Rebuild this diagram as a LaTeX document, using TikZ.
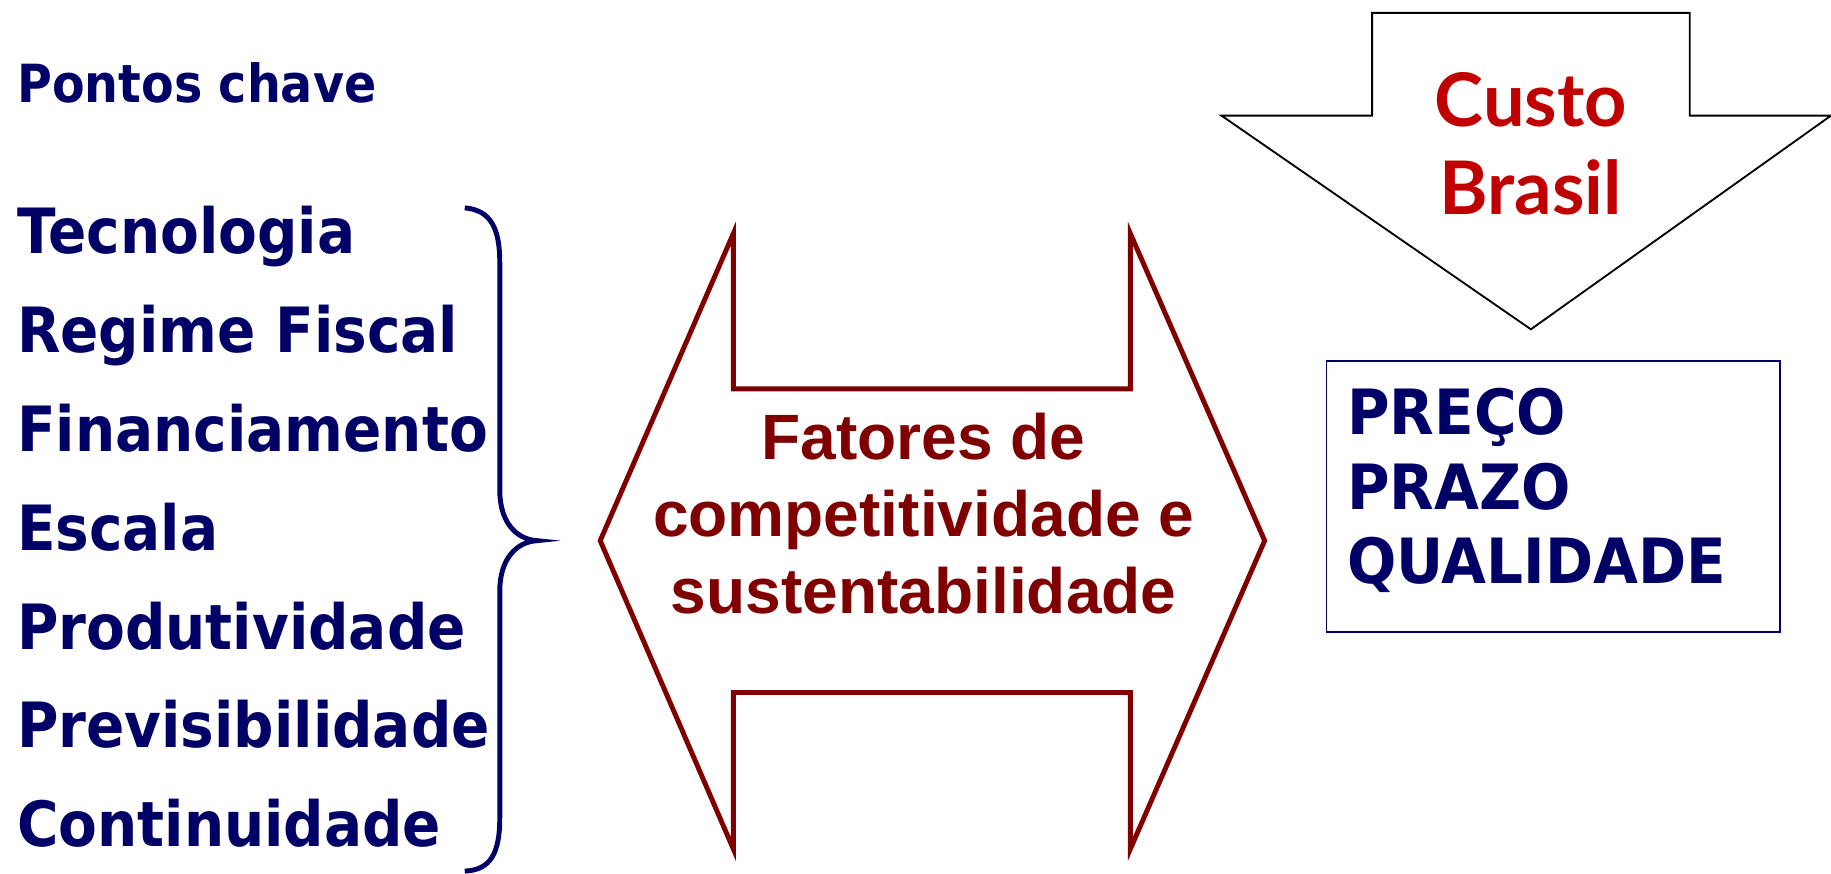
\documentclass[tikz,border=0pt]{standalone}
\usepackage{fontspec}
\setmainfont{DejaVu Sans}[FakeStretch=0.93]
\newfontfamily\listafont{DejaVu Sans}[FakeStretch=0.905]
\newfontfamily\arialfont{Liberation Sans}
\newfontfamily\custofont{Lato}
\definecolor{navy}{RGB}{0,0,102}
\definecolor{darkred}{RGB}{128,0,0}
\definecolor{custored}{RGB}{192,0,0}
\tikzset{
  item/.style={anchor=base west,inner sep=0pt,text=navy,font=\bfseries\fontsize{15.2}{18}\selectfont},
  fator/.style={align=center,inner sep=0pt,text=darkred,font=\arialfont\bfseries\fontsize{15.6}{18.8}\selectfont},
}
\begin{document}
\begin{tikzpicture}[x=0.01cm,y=-0.01cm]
\useasboundingbox (0,0) rectangle (1568,748);

% lista da esquerda
\node[item,font=\listafont\bfseries\fontsize{12.8}{14}\selectfont] (pontos) at (14,88) {Pontos chave};
\node[item,font=\listafont\bfseries\fontsize{15.2}{18}\selectfont] (tec) at (14,217) {Tecnologia};
\node[item,font=\listafont\bfseries\fontsize{15.2}{18}\selectfont] (regime) at (14,302) {Regime Fiscal};
\node[item,font=\listafont\bfseries\fontsize{15.2}{18}\selectfont] (finan) at (14,387) {Financiamento};
\node[item,font=\listafont\bfseries\fontsize{15.2}{18}\selectfont] (escala) at (14,471) {Escala};
\node[item,font=\listafont\bfseries\fontsize{15.2}{18}\selectfont] (produt) at (14,556) {Produtividade};
\node[item,font=\listafont\bfseries\fontsize{15.2}{18}\selectfont] (previs) at (14,640) {Previsibilidade};
\node[item,font=\listafont\bfseries\fontsize{15.2}{18}\selectfont] (contin) at (14,725) {Continuidade};

% chave
\draw[navy,line width=1.2pt] (398,178) .. controls (420,180) and (428,195) .. (428,225) -- (428,420)
  .. controls (428,447) and (442,462) .. (460,463) .. controls (442,464) and (428,479) .. (428,506)
  -- (428,700) .. controls (428,731) and (420,745) .. (398,746);

% seta dupla
\draw[darkred,line width=1.2pt,line join=miter] (514,463)--(628,200)--(628,333)--(968,333)--(968,200)--(1083,463)
  --(968,727)--(968,593)--(628,593)--(628,727)--cycle;
\node[fator] (fatores) at (791,440) {Fatores de\\competitividade e\\sustentabilidade};

% custo brasil
\draw[black,line width=0.45pt] (1046,99)--(1175,99)--(1175,11)--(1447,11)--(1447,99)--(1568,99)--(1311,282)--cycle;
\node[align=center,inner sep=0pt,text=custored,font=\custofont\bfseries\fontsize{18}{21.5}\selectfont] (custo) at (1311,123) {Custo\\Brasil};

% preco prazo qualidade
\draw[navy,line width=0.45pt] (1136,309) rectangle (1524,541);
\node[item] (preco) at (1153,372) {PREÇO};
\node[item] (prazo) at (1153,436) {PRAZO};
\node[item] (qualid) at (1153,500) {QUALIDADE};
\end{tikzpicture}
\end{document}
